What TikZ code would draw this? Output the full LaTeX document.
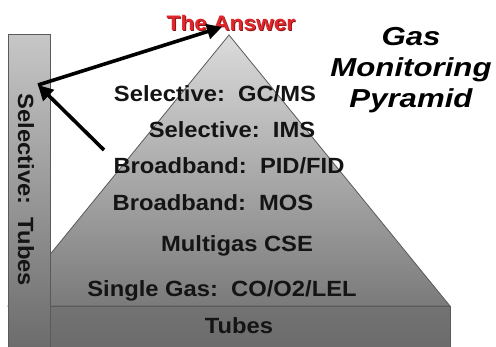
\documentclass[tikz,border=0pt]{standalone}
\usepackage{fontspec}
\setmainfont{Liberation Sans}[FakeStretch=1.08]
\newfontfamily\titlefont{Liberation Sans}[FakeStretch=1.2]
\usetikzlibrary{arrows.meta}
\definecolor{edgegray}{HTML}{5A5A5A}
\definecolor{answerred}{HTML}{E0262A}
\definecolor{answershadow}{HTML}{8C1818}
\tikzset{
  layer/.style={anchor=base, inner sep=0pt, font=\fontsize{22}{24}\selectfont\bfseries, text=black!92},
  bigarrow/.style={line width=3.6pt, -{Triangle[length=15pt,width=15pt]}},
  frame/.style={draw=edgegray, line width=0.8pt}
}
\begin{document}
\begin{tikzpicture}[x=1pt,y=-1pt]
\useasboundingbox (0,0) rectangle (496,346);
% pyramid
\shade[top color=black!14, bottom color=black!52, frame] (229,35) -- (450,306) -- (8,306) -- cycle;
% tubes base bar
\shade[top color=black!55, bottom color=black!58, frame] (50,306) rectangle (450,350);
% left bar
\shade[top color=black!22, bottom color=black!58, frame] (8,34) rectangle (50,350);
% layer texts
\node[layer] (gcms) at (215,101) {Selective:\ \ GC/MS};
\node[layer] (ims) at (232,137) {Selective:\ \ IMS};
\node[layer] (pid) at (229,173) {Broadband:\ \ PID/FID};
\node[layer] (mos) at (213,210) {Broadband:\ \ MOS};
\node[layer] (cse) at (237,251) {Multigas CSE};
\node[layer] (single) at (222,296) {Single Gas:\ \ CO/O2/LEL};
\node[layer] (tubes) at (239,333) {Tubes};
\node[layer, rotate=-90] (seltubes) at (18,190) {Selective:\ \ Tubes};
% the answer
\node[anchor=base, inner sep=0pt, font=\fontsize{21}{23}\selectfont\bfseries, text=answershadow] (answershadowtext) at (232,31) {The Answer};
\node[anchor=base, inner sep=0pt, font=\fontsize{21}{23}\selectfont\bfseries, text=answerred] (answer) at (231,30) {The Answer};
% title
\node[align=center, inner sep=0pt, font=\titlefont\fontsize{26}{31}\selectfont\bfseries\itshape, anchor=base] (title) at (411,107) {Gas\\Monitoring\\Pyramid};
% arrows
\coordinate (corner) at (38,85);
\coordinate (apextip) at (222,27);
\coordinate (tailstart) at (104,150);
\draw[bigarrow] (corner) -- (apextip);
\draw[bigarrow] (tailstart) -- (corner);
\end{tikzpicture}
\end{document}
